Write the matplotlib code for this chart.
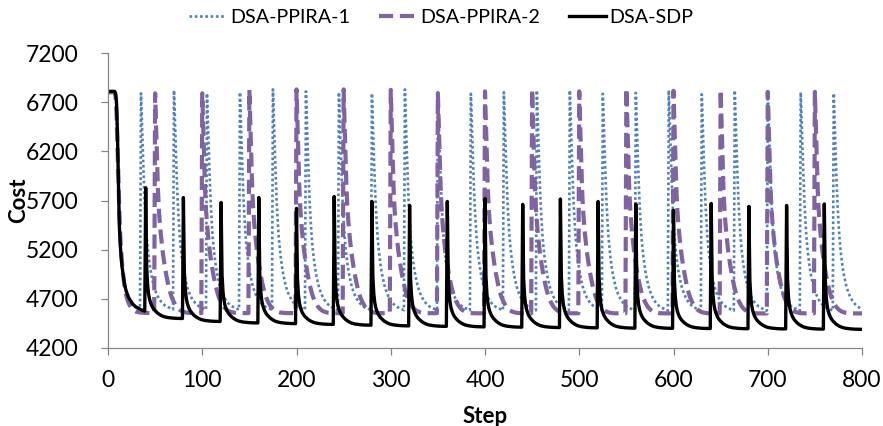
import numpy as np
import matplotlib
matplotlib.use("Agg")
import matplotlib.pyplot as plt

plt.rcParams['font.family'] = ['Lato', 'DejaVu Sans']

# ---------------- data ----------------
series_names = ["DSA-PPIRA-1", "DSA-PPIRA-2", "DSA-SDP"]
last_step = 800

# DSA-PPIRA-1 (blue dotted)
p1_initial = [6800, 6800, 6800, 6800, 6800, 6800, 6800, 6800, 6770, 6650,
              6300, 5850, 5450, 5230, 5100, 5000, 4930, 4870, 4820, 4780,
              4750, 4725, 4705, 4690, 4675, 4662, 4650, 4640, 4632, 4625,
              4618, 4612, 4606, 4600, 4595]
p1_resets = [35, 70, 105, 140, 175, 210, 245, 280, 315, 350, 385, 420, 455,
             490, 525, 560, 595, 630, 665, 700, 735, 770]
p1_peaks = [6790, 6820, 6790, 6800, 6830, 6810, 6800, 6790, 6830, 6800, 6785,
            6800, 6820, 6820, 6785, 6795, 6820, 6780, 6820, 6815, 6800, 6790]
p1_floors = [4592, 4590, 4590, 4588, 4588, 4586, 4586, 4585, 4585, 4584, 4584,
             4583, 4583, 4582, 4582, 4581, 4581, 4580, 4580, 4580, 4580, 4580]
p1_decay = [1.0, 0.86, 0.73, 0.60, 0.49, 0.41, 0.34, 0.29, 0.25, 0.215,
            0.185, 0.16, 0.14, 0.12, 0.103, 0.09, 0.078, 0.068, 0.059, 0.051,
            0.044, 0.038, 0.033, 0.028, 0.024, 0.02, 0.017, 0.014, 0.012, 0.01,
            0.008, 0.006, 0.004, 0.002, 0.0]

# DSA-PPIRA-2 (purple dashed)
p2_initial = [6800, 6800, 6800, 6800, 6800, 6800, 6800, 6800, 6760, 6600,
              6250, 5950, 5600, 5350, 5180, 5050, 4950, 4870, 4800, 4750,
              4710, 4680, 4655, 4635, 4620, 4607, 4596, 4587, 4580, 4574,
              4569, 4566, 4564, 4562, 4561, 4560, 4559, 4558, 4558, 4557,
              4557, 4556, 4556, 4556, 4555, 4555, 4555, 4555, 4555, 4555]
p2_resets = [50, 100, 150, 200, 250, 300, 350, 400, 450, 500, 550, 600, 650,
             700, 750]
p2_peaks = [6790, 6790, 6825, 6830, 6830, 6825, 6790, 6810, 6830, 6810, 6840,
            6815, 6825, 6805, 6805]
p2_floors = [4555, 4555, 4555, 4554, 4554, 4554, 4553, 4553, 4553, 4552, 4552,
             4552, 4552, 4552, 4552]
p2_decay = [1.0, 0.85, 0.70, 0.56, 0.47, 0.41, 0.36, 0.32, 0.28, 0.25,
            0.22, 0.195, 0.17, 0.148, 0.128, 0.11, 0.094, 0.08, 0.068, 0.058,
            0.049, 0.041, 0.034, 0.028, 0.023, 0.019, 0.015, 0.012, 0.0095,
            0.0075, 0.006, 0.0045, 0.0035, 0.0025, 0.0018, 0.0012, 0.0008,
            0.0005, 0.0003, 0.0002, 0.0001, 0.0]

# DSA-SDP (black solid)
sdp_initial = [6810, 6810, 6810, 6810, 6810, 6810, 6810, 6810, 6790, 6700,
               6400, 5900, 5450, 5250, 5120, 5020, 4950, 4880, 4830, 4790,
               4760, 4735, 4710, 4695, 4680, 4665, 4650, 4640, 4630, 4622,
               4615, 4610, 4605, 4600, 4595, 4590, 4585, 4582, 4578, 4575]
sdp_resets = [40, 80, 120, 160, 200, 240, 280, 320, 360, 400, 440, 480, 520,
              560, 600, 640, 680, 720, 760]
sdp_peaks = [5830, 5730, 5680, 5730, 5620, 5740, 5690, 5650, 5690, 5720, 5660,
             5715, 5690, 5665, 5600, 5670, 5640, 5650, 5665]
sdp_floors = [4500, 4470, 4455, 4448, 4440, 4432, 4425, 4420, 4415, 4412,
              4408, 4405, 4402, 4400, 4398, 4396, 4394, 4392, 4390]
sdp_decay = [1.0, 0.40, 0.26, 0.19, 0.15, 0.125, 0.105, 0.09, 0.078, 0.068,
             0.06, 0.052, 0.045, 0.039, 0.034, 0.029, 0.025, 0.021, 0.018,
             0.015, 0.013, 0.011, 0.0095, 0.008, 0.007, 0.006, 0.005, 0.0042,
             0.0035, 0.0028, 0.0022, 0.0017, 0.0013, 0.001, 0.0007, 0.0005,
             0.0003, 0.0002, 0.0001, 0.0]

x_ticks = [0, 100, 200, 300, 400, 500, 600, 700, 800]
y_ticks = [4200, 4700, 5200, 5700, 6200, 6700, 7200]


def build(initial, resets, peaks, floors, decay):
    vals = list(initial)
    bounds = resets[1:] + [last_step + 1]
    for s, e, pk, fl in zip(resets, bounds, peaks, floors):
        for k in range(e - s):
            frac = decay[k] if k < len(decay) else 0.0
            vals.append(fl + (pk - fl) * frac)
    return np.array(vals[:last_step + 1])


steps = np.arange(last_step + 1)
y1 = build(p1_initial, p1_resets, p1_peaks, p1_floors, p1_decay)
y2 = build(p2_initial, p2_resets, p2_peaks, p2_floors, p2_decay)
y3 = build(sdp_initial, sdp_resets, sdp_peaks, sdp_floors, sdp_decay)

# ---------------- plot ----------------
W, H = 883, 426
fig = plt.figure(figsize=(W / 100, H / 100), dpi=100)
ax = fig.add_axes([108 / W, (H - 348) / H, (862 - 108) / W, (348 - 53) / H])

ax.plot(steps, y1, color='#4F81BD', lw=1.9, linestyle=(0, (1, 1.0)),
        label=series_names[0])
ax.plot(steps, y2, color='#8064A2', lw=3.0, linestyle=(0, (3.4, 1.6)),
        label=series_names[1])
ax.plot(steps, y3, color='black', lw=2.4, label=series_names[2])

ax.set_xlim(0, 800)
ax.set_ylim(4200, 7200)
ax.set_xticks(x_ticks)
ax.set_yticks(y_ticks)
ax.set_xticklabels([str(v) for v in x_ticks])
ax.set_yticklabels([str(v) for v in y_ticks])

for side in ['top', 'right']:
    ax.spines[side].set_visible(False)
for side in ['left', 'bottom']:
    ax.spines[side].set_color('#868686')
    ax.spines[side].set_linewidth(0.9)

ax.tick_params(axis='both', colors='#868686', labelcolor='black',
               labelsize=16.5, direction='out', length=5, width=0.9)
ax.tick_params(axis='y', pad=16)
ax.tick_params(axis='x', pad=11)

ax.set_xlabel('Step', fontsize=16, fontweight='bold')
ax.xaxis.set_label_coords(0.5, -0.195)
ax.set_ylabel('Cost', fontsize=16, fontweight='bold')
ax.yaxis.set_label_coords(-0.104, 0.5)

leg = fig.legend(loc='upper center', bbox_to_anchor=(0.5, 1.02), ncol=3,
                 frameon=False, fontsize=14.2, handlelength=1.85,
                 handletextpad=0.2, columnspacing=1.5)

fig.savefig('out.png', dpi=100)
